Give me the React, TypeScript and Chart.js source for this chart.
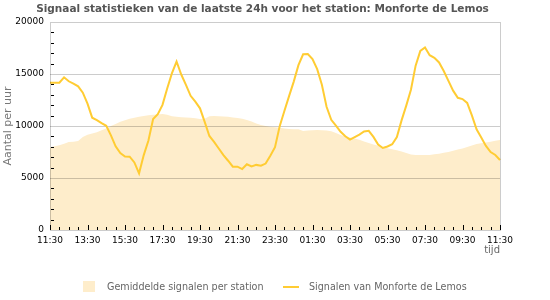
import { useEffect, useRef } from "react";
import { Chart, registerables } from "chart.js";

Chart.register(...registerables);

const timeLabels =
  "11:30 11:45 12:00 12:15 12:30 12:45 13:00 13:15 13:30 13:45 14:00 14:15 14:30 14:45 15:00 15:15 15:30 15:45 16:00 16:15 16:30 16:45 17:00 17:15 17:30 17:45 18:00 18:15 18:30 18:45 19:00 19:15 19:30 19:45 20:00 20:15 20:30 20:45 21:00 21:15 21:30 21:45 22:00 22:15 22:30 22:45 23:00 23:15 23:30 23:45 00:00 00:15 00:30 00:45 01:00 01:15 01:30 01:45 02:00 02:15 02:30 02:45 03:00 03:15 03:30 03:45 04:00 04:15 04:30 04:45 05:00 05:15 05:30 05:45 06:00 06:15 06:30 06:45 07:00 07:15 07:30 07:45 08:00 08:15 08:30 08:45 09:00 09:15 09:30 09:45 10:00 10:15 10:30 10:45 11:00 11:15 11:30".split(
    " "
  );

const averageSignals = [
  7950, 8050, 8150, 8300, 8460, 8480, 8550, 8950, 9150, 9280, 9400, 9580, 9750, 10000, 10200, 10400,
  10560, 10700, 10800, 10880, 10950, 11040, 11080, 11110, 11150, 11080, 10930, 10880, 10850, 10820,
  10800, 10740, 10680, 10700, 10930, 10950, 10930, 10910, 10890, 10820, 10770, 10700, 10570, 10440,
  10250, 10090, 10000, 9930, 9880, 9820, 9770, 9700, 9680, 9680, 9520, 9560, 9600, 9620, 9600, 9560,
  9500, 9320, 9130, 9000, 8900, 8800, 8680, 8520, 8370, 8220, 8090, 7960, 7860, 7760, 7660, 7550,
  7400, 7250, 7210, 7210, 7210, 7220, 7280, 7340, 7420, 7500, 7620, 7730, 7830, 7970, 8120, 8260,
  8340, 8420, 8490, 8570, 8650,
];

const stationSignals = [
  14150, 14160, 14160, 14680, 14300, 14070, 13810, 13200, 12150, 10800, 10570, 10280, 10020, 9100,
  8050, 7400, 7070, 7050, 6500, 5450, 7200, 8600, 10680, 11130, 12030, 13610, 15060, 16200, 14950,
  13950, 12900, 12340, 11700, 10400, 9040, 8480, 7840, 7200, 6660, 6090, 6090, 5860, 6320, 6110,
  6260, 6190, 6390, 7150, 7960, 9970, 11450, 12870, 14270, 15850, 16900, 16920, 16440, 15470, 13970,
  11850, 10590, 10030, 9440, 9020, 8700, 8930, 9170, 9470, 9540, 8950, 8210, 7890, 8030, 8250, 8940,
  10540, 11960, 13480, 15800, 17220, 17560, 16810, 16560, 16110, 15290, 14340, 13400, 12710, 12590,
  12220, 11020, 9680, 8900, 8090, 7490, 7210, 6730,
];

const gridValues = [5000, 10000, 15000];
const minorYStep = 1000;

const TITLE = "Signaal statistieken van de laatste 24h voor het station: Monforte de Lemos";
const FONT = "'DejaVu Sans', Verdana, sans-serif";
const FILL = "#FEEDCB";
const LINE = "#FFCC33";

const framePlugin = {
  id: "framePlugin",
  beforeDatasetDraw(chart: any, args: any) {
    if (args.index !== 1) return;
    const { ctx, chartArea: a, scales } = chart;
    ctx.save();
    ctx.globalCompositeOperation = "multiply";
    ctx.strokeStyle = "#cccccc";
    ctx.lineWidth = 1;
    for (const v of gridValues) {
      const py = Math.round(scales.y.getPixelForValue(v)) + 0.5;
      ctx.beginPath();
      ctx.moveTo(a.left, py);
      ctx.lineTo(a.right, py);
      ctx.stroke();
    }
    ctx.restore();
  },
  afterDatasetsDraw(chart: any) {
    const { ctx, chartArea: a, scales } = chart;
    ctx.save();
    ctx.globalCompositeOperation = "multiply";
    ctx.strokeStyle = "#cccccc";
    ctx.lineWidth = 1;
    ctx.strokeRect(
      Math.round(a.left) + 0.5,
      Math.round(a.top) + 0.5,
      Math.round(a.right - a.left),
      Math.round(a.bottom - a.top)
    );
    ctx.restore();
    ctx.save();
    ctx.strokeStyle = "#000000";
    ctx.lineWidth = 1;
    const bottom = Math.round(a.bottom);
    for (let i = 0; i < timeLabels.length; i += 2) {
      const px = Math.round(scales.x.getPixelForValue(i)) + 0.5;
      const len = i % 8 === 0 ? 5 : 3;
      ctx.beginPath();
      ctx.moveTo(px, bottom);
      ctx.lineTo(px, bottom - len);
      ctx.stroke();
    }
    const left = Math.round(a.left) + 1;
    for (let v = minorYStep; v < 20000; v += minorYStep) {
      if (v % 5000 === 0) continue;
      const py = Math.round(scales.y.getPixelForValue(v)) + 0.5;
      ctx.beginPath();
      ctx.moveTo(left, py);
      ctx.lineTo(left + 3, py);
      ctx.stroke();
    }
    ctx.restore();
  },
  afterDraw(chart: any) {
    const { ctx } = chart;
    const ds = chart.data.datasets;
    ctx.save();
    // title
    ctx.font = `bold 10.5px ${FONT}`;
    ctx.fillStyle = "#555555";
    ctx.textAlign = "center";
    ctx.textBaseline = "middle";
    ctx.fillText(TITLE, 262.5, 9.5);
    // legend
    ctx.font = `9.6px ${FONT}`;
    ctx.textAlign = "left";
    const y = 287;
    ctx.fillStyle = FILL;
    ctx.fillRect(83, 281, 12, 11);
    ctx.fillStyle = "#666666";
    ctx.fillText(ds[0].label, 107, y);
    ctx.strokeStyle = LINE;
    ctx.lineWidth = 2;
    ctx.beginPath();
    ctx.moveTo(283, y);
    ctx.lineTo(299, y);
    ctx.stroke();
    ctx.fillText(ds[1].label, 309, y);
    ctx.restore();
  },
};

export default function App() {
  const ref = useRef<HTMLCanvasElement | null>(null);
  useEffect(() => {
    if (!ref.current) return;
    const chart = new Chart(ref.current, {
      type: "line",
      data: {
        labels: timeLabels,
        datasets: [
          {
            label: "Gemiddelde signalen per station",
            data: averageSignals,
            borderWidth: 0,
            borderColor: FILL,
            backgroundColor: FILL,
            fill: "origin",
            pointRadius: 0,
            tension: 0,
            order: 2,
          },
          {
            label: "Signalen van Monforte de Lemos",
            data: stationSignals,
            borderWidth: 2,
            borderColor: LINE,
            backgroundColor: LINE,
            fill: false,
            pointRadius: 0,
            tension: 0,
            order: 1,
          },
        ],
      },
      options: {
        animation: false,
        responsive: false,
        maintainAspectRatio: false,
        layout: { padding: { left: 0, right: 50, top: 22, bottom: 40 } },
        plugins: {
          legend: { display: false },
          tooltip: { enabled: false },
          title: { display: false },
        },
        scales: {
          x: {
            type: "category",
            offset: false,
            grid: { display: false, drawTicks: false },
            border: { display: false },
            ticks: {
              autoSkip: false,
              maxRotation: 0,
              padding: 5,
              color: "#000000",
              font: { family: FONT, size: 9 },
              callback: function (this: any, value: any, index: number) {
                return index % 8 === 0 ? timeLabels[index] : null;
              },
            },
            title: {
              display: true,
              text: "tijd",
              align: "end",
              color: "#666666",
              font: { family: FONT, size: 10 },
              padding: { top: 0, bottom: 4 },
            },
            afterFit: (scale: any) => {
              scale.height = 30;
            },
          },
          y: {
            min: 0,
            max: 20000,
            grid: { display: false, drawTicks: false },
            border: { display: false },
            ticks: {
              stepSize: 5000,
              padding: 6,
              color: "#000000",
              font: { family: FONT, size: 9 },
              callback: (value: any) => String(value),
            },
            title: {
              display: true,
              text: "Aantal per uur",
              color: "#777777",
              font: { family: FONT, size: 11 },
              padding: { top: 2, bottom: 0 },
            },
            afterFit: (scale: any) => {
              scale.width = 50;
            },
          },
        },
      },
      plugins: [framePlugin],
    });
    return () => chart.destroy();
  }, []);
  return (
    <div style={{ position: "fixed", left: 0, top: 0, width: 550, height: 300, background: "#fff" }}>
      <canvas ref={ref} width={550} height={300} style={{ width: 550, height: 300, display: "block" }} />
    </div>
  );
}
